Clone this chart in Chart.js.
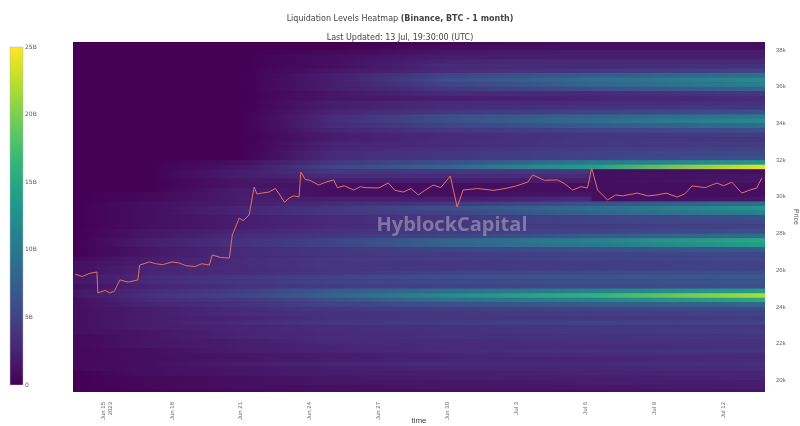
<!DOCTYPE html>
<html><head><meta charset="utf-8">
<script src="https://cdn.jsdelivr.net/npm/chart.js@4/dist/chart.umd.min.js"></script>
<style>html,body{margin:0;padding:0;background:#fff}#w{width:800px;height:426px}</style>
</head><body><div id="w"><canvas id="c"></canvas></div>
<script>
// time in days since Jun 15 2023 00:00; heat values sampled at these times
const nodeTimes = [-1.3, 2, 6, 10, 15, 21.2, 21.3, 28.8];
const priceBins = [38250,38000,37750,37500,37250,37000,36750,36500,36250,36000,35750,35500,35250,35000,34750,34500,34250,34000,33750,33500,33250,33000,32750,32500,32250,32000,31750,31500,31250,31000,30750,30500,30250,30000,29750,29500,29250,29000,28750,28500,28250,28000,27750,27500,27250,27000,26750,26500,26250,26000,25750,25500,25250,25000,24750,24500,24250,24000,23750,23500,23250,23000,22750,22500,22250,22000,21750,21500,21250,21000,20750,20500,20250,20000,19750,19500,19250];
const binSize = 250;
const heat = [
[0,0,0,0,0.5,1,1,1],[0,0,0,0,1,1,1,1],[0,0,0,0.5,1.5,2,2,2],[0,0,0,1,2,2,2,2],[0,0,0,1,2.5,3,3,3],
[0,0,0,1,3,3,3,3.5],[0,0,0,1.5,3,4,4,5],[0,0,0,2,5,7,7,9],[0,0,0,2,6,9,9,12],[0,0,0,2,5,8,8,11],
[0,0,0,2,4,6,6,8],[0,0,0,1.5,3,3,3,4],[0,0,0,1.5,2,2.5,2.5,3],[0,0,0,2,3,3,3,3.5],[0,0,0,2,3,3.5,3.5,4],
[0,0,0,2.5,4,5,5,6],[0,0,0,3,6,8,8,10],[0,0,0,3,6,9,9,12],[0,0,0,3,5,7,7,9],[0,0,0,2.5,4,5,5,6],
[0,0,0,2,3,4,4,4.5],[0,0,0,2,3,4,4,4],[0,0,0,2.5,3,4,4,4.5],[0,0,0,2.5,3.5,4.5,4.5,5],[0,0,0,3,4,5,5,5.5],
[0,0,0,3,4,5,5,6],[0,0,1,4,6,10,10,13],[0,0,1.5,5,8,14,14,24],[0,0,2,4,4,4,1,1],[0,0,2,3,3,3,1,1.5],
[0,0,1.5,2,2,2,1,1.5],[0,0,1.5,1,1,1,1,1],[0,0,2,1,1,1,1,1],[0,0.5,2,1,1,1.5,1,1],[0,0.5,2,2,2,3,1,1.5],
[0,1,2,3,4,6,6,9],[0,1,2.5,4,6,9,9,13],[0,1,2.5,4,5,8,8,11],[0,1,2,3,4,5,5,6],[0,1,2,3,4,5,5,5.5],
[0,1,2,3,4,4.5,4.5,5],[0,1.5,2.5,3.5,4.5,5,5,6],[0,1.5,3,4,5,7,7,9],[0,2,3.5,5,8,11,11,15],[0,2,3.5,5,8,10,10,14],
[0,1.5,3,4,5,6,6,7],[0,1.5,3,4,4.5,5,5,5.5],[0.5,2,3,4,4.5,5,5,5.5],[1,2,3,4,4,4.5,4.5,5],[1,2.5,3,4,4,4.5,4.5,5],
[1,2.5,3,4,5,5.5,5.5,6],[1.5,3,4,5,6,6.5,6.5,7],[1.5,3,4,5,5.5,6,6,6.5],[1,2.5,3.5,4.5,5,5.5,5.5,6],[1.5,3,4.5,7,9,11,11,14],
[1.5,3.5,5,8,12,16,16,22],[1,3,4,6,9,11,11,15],[1,2.5,3.5,5,6,7,7,8],[1,2,3,4,4.5,5,5,5.5],[1,2,3,3.5,4,4.5,4.5,5],
[1,2,2.5,3.5,4,4,4,4.5],[1,2,3,4,4.5,5,5,5],[1,2,2.5,3,3.5,4,4,4],[1,1.5,2.5,3,3.5,4,4,4.5],[0.5,1.5,2.5,3,3.5,3.5,3.5,4],
[0.5,1.5,2,3,3,3.5,3.5,3.5],[0.5,1.5,2,2.5,3,3,3,3.5],[0.5,1,2,2.5,3,3.5,3.5,4],[0.5,1,1.5,2,2.5,3,3,3],[0.5,1,1.5,2,2.5,2.5,2.5,3],
[0.5,1,2,2.5,3,3,3,3.5],[0.5,1,1.5,2,2.5,2.5,2.5,3],[0,1,1.5,2,2,2.5,2.5,2.5],[0,0.5,1,1.5,2,2,2,2.5],[0,0.5,1,1.5,1.5,2,2,2],
[0,0.5,1,1,1.5,1.5,1.5,2],[0,0,0.5,1,1,1,1,1.5]];
const priceT = [-1.21,-0.9,-0.6,-0.26,-0.22,0.1,0.3,0.5,0.74,1.1,1.52,1.6,2.03,2.3,2.6,3.0,3.3,3.6,4.0,4.3,4.63,4.76,5.1,5.5,5.63,5.93,6.1,6.36,6.58,6.7,6.9,7.23,7.5,7.7,7.9,8.1,8.3,8.53,8.61,8.8,9.0,9.39,9.7,10.04,10.2,10.5,10.91,11.2,11.4,11.99,12.42,12.7,13.07,13.4,13.72,14.0,14.37,14.7,15.11,15.41,15.67,16.3,17.0,17.62,18.0,18.48,18.7,19.2,19.78,20.1,20.43,20.8,21.08,21.26,21.52,21.95,22.3,22.6,23.25,23.7,24.1,24.5,24.98,25.3,25.63,26.2,26.71,27.0,27.36,27.79,28.1,28.44,28.66];
const priceV = [25790,25650,25820,25900,24760,24900,24760,24850,25470,25350,25470,26280,26450,26350,26300,26450,26400,26250,26200,26350,26280,26830,26700,26660,27920,28840,28700,29010,30530,30150,30200,30260,30450,30100,29700,29930,30050,29990,31350,30950,30900,30640,30800,30920,30500,30600,30370,30550,30500,30480,30750,30350,30260,30450,30100,30350,30640,30500,31130,29440,30370,30450,30350,30480,30600,30800,31190,30900,30920,30700,30370,30550,30480,31570,30370,29830,30100,30050,30200,30050,30100,30200,29990,30150,30590,30500,30750,30600,30800,30200,30350,30480,31020];
const xTickVals = [0,3,6,9,12,15,18,21,24,27];
const xTickLabels = [['Jun 15','2023'],'Jun 18','Jun 21','Jun 24','Jun 27','Jun 30','Jul 3','Jul 6','Jul 9','Jul 12'];
const yTickVals = [20000,22000,24000,26000,28000,30000,32000,34000,36000,38000];
const cbTicks = ['0','5B','10B','15B','20B','25B'];
const vmax = 25;

const vir = [[68,1,84],[72,40,120],[62,74,137],[49,104,142],[38,130,142],[31,158,137],[53,183,121],[109,205,89],[180,222,44],[253,231,37]];
function viridis(t){t=Math.max(0,Math.min(1,t));const s=t*(vir.length-1);const i=Math.min(vir.length-2,Math.floor(s));const f=s-i;
 const c=vir[i].map((a,k)=>Math.round(a+(vir[i+1][k]-a)*f));return `rgb(${c[0]},${c[1]},${c[2]})`;}

const heatPlugin={id:'heat',beforeDatasetsDraw(ch){const {ctx,chartArea:a,scales:{x,y}}=ch;ctx.save();
 ctx.fillStyle=viridis(0);ctx.fillRect(a.left,a.top,a.width,a.height);
 ctx.beginPath();ctx.rect(a.left,a.top,a.width,a.height);ctx.clip();
 const x0=x.getPixelForValue(nodeTimes[0]),x1=x.getPixelForValue(nodeTimes[nodeTimes.length-1]);
 priceBins.forEach((p,r)=>{const ya=y.getPixelForValue(p+binSize),yb=y.getPixelForValue(p);
  const g=ctx.createLinearGradient(x0,0,x1,0);
  nodeTimes.forEach((t,k)=>g.addColorStop((x.getPixelForValue(t)-x0)/(x1-x0),viridis(heat[r][k]/vmax)));
  ctx.fillStyle=g;ctx.fillRect(x0,ya,x1-x0,yb-ya+0.4);
 });
 ctx.font='bold 20px "Open Sans", sans-serif';ctx.fillStyle='rgba(200,200,210,0.45)';ctx.textAlign='center';ctx.textBaseline='middle';
 ctx.fillText('HyblockCapital',(a.left+a.right)/2+33,a.top+183);
 ctx.restore();},
 afterDraw(ch){const ctx=ch.ctx;ctx.save();
  ctx.fillStyle='#444';
  const t1='Liquidation Levels Heatmap ',t2='(Binance, BTC - 1 month)';
  ctx.font='8px "DejaVu Sans"';const w1=ctx.measureText(t1).width;ctx.font='bold 8px "DejaVu Sans"';const w2=ctx.measureText(t2).width;
  const sx=400-(w1+w2)/2;ctx.textAlign='left';ctx.font='8px "DejaVu Sans"';ctx.fillText(t1,sx,21);ctx.font='bold 8px "DejaVu Sans"';ctx.fillText(t2,sx+w1,21);
  ctx.font='8px "DejaVu Sans"';ctx.textAlign='center';ctx.fillText('Last Updated: 13 Jul, 19:30:00 (UTC)',400,40);
  const cx=10,cw=13,ct=47,cb=385;const g=ctx.createLinearGradient(0,cb,0,ct);
  for(let i=0;i<=20;i++)g.addColorStop(i/20,viridis(i/20));
  ctx.fillStyle=g;ctx.fillRect(cx,ct,cw,cb-ct);ctx.strokeStyle='#bbb';ctx.lineWidth=0.5;ctx.strokeRect(cx,ct,cw,cb-ct);
  ctx.fillStyle='#555';ctx.font='6px "DejaVu Sans"';ctx.textAlign='left';ctx.textBaseline='middle';
  cbTicks.forEach((t,i)=>ctx.fillText(t,cx+cw+2,cb-i*(cb-ct)/(cbTicks.length-1)));
  ctx.restore();}};

new Chart(document.getElementById('c'),{type:'line',
 data:{datasets:[{data:priceT.map((t,i)=>({x:t,y:priceV[i]})),borderColor:'#e86f5c',borderWidth:1,pointRadius:0,tension:0}]},
 options:{responsive:true,maintainAspectRatio:false,animation:false,
  layout:{padding:{left:73,top:42,right:0,bottom:0}},
  plugins:{legend:{display:false},tooltip:{enabled:false}},
  scales:{
   x:{type:'linear',min:-1.3,max:28.8,grid:{display:false},border:{display:false},
    afterBuildTicks(ax){ax.ticks=xTickVals.map(v=>({value:v}));},
    afterFit(ax){ax.height=34;},
    ticks:{minRotation:90,maxRotation:90,font:{size:6},color:'#666',padding:2,callback(v){const i=xTickVals.indexOf(v);return i>=0?xTickLabels[i]:'';}},
    title:{display:true,text:'time',font:{size:8},color:'#444',padding:0}},
   y:{position:'right',min:19361,max:38436,grid:{display:false},border:{display:false},
    afterBuildTicks(ax){ax.ticks=yTickVals.map(v=>({value:v}));},
    afterFit(ax){ax.width=35;},
    ticks:{font:{size:6},color:'#666',padding:3,callback:v=>(v/1000)+'k'},
    title:{display:true,text:'Price',font:{size:7},color:'#555',padding:0}}
  }},
 plugins:[heatPlugin]});
</script></body></html>
